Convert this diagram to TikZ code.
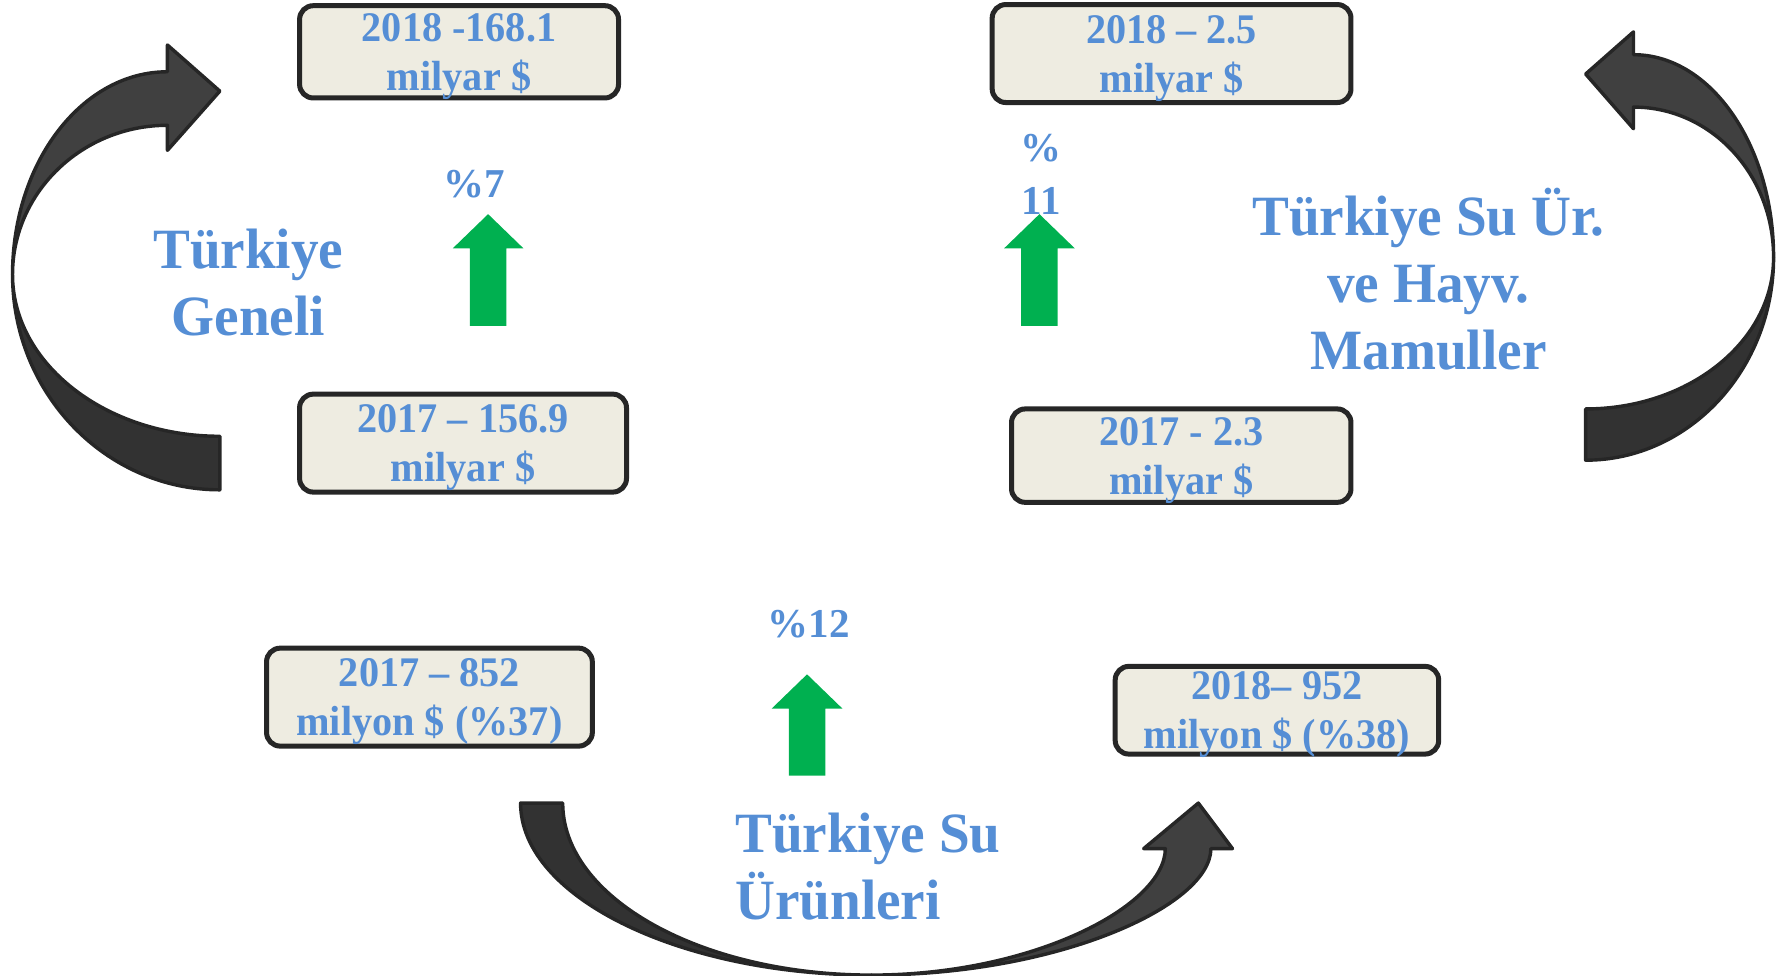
\documentclass[tikz,border=0pt]{standalone}
\usepackage{fontspec}
\setmainfont{Liberation Serif}
\newfontfamily\narrowserif[Ligatures=TeX, FakeStretch=0.955]{Liberation Serif}
\newfontfamily\titleserif[Ligatures=TeX, FakeStretch=0.97]{Liberation Serif}
\usepackage{xcolor}
\definecolor{txtblue}{HTML}{558ED5}
\definecolor{boxfill}{HTML}{EEECE1}
\definecolor{boxline}{HTML}{262626}
\definecolor{upgreen}{HTML}{00B050}
\definecolor{bandlight}{HTML}{404040}
\definecolor{banddark}{HTML}{323232}
\def\headlen{30}

\begin{document}
\begin{tikzpicture}[x=0.5pt,y=-0.5pt]
    \tikzstyle{value box}=[draw=boxline, line width=2.2pt, fill=boxfill, rounded corners=6pt, inner sep=0pt]
    \tikzstyle{value text}=[align=center, text=txtblue, inner sep=0pt, font=\narrowserif\fontsize{18.5}{21.5}\selectfont\bfseries]
    \tikzstyle{rate}=[text=txtblue, align=center, font=\fontsize{18}{23}\selectfont\bfseries]
    \tikzstyle{title}=[text=txtblue, inner sep=0pt, font=\titleserif\fontsize{25}{29.5}\selectfont\bfseries]
    \tikzstyle{band}=[draw=boxline, line width=1.5pt, line join=round]
    \tikzstyle{up arrow}=[fill=upgreen]

    \useasboundingbox (0,0) rectangle (1560,856);

    % Draw the curved arrows (back half first, then the half with the head)
    \filldraw[band, fill=banddark] (11,241) .. controls (11,345) and (92.5,430) .. (193,430) -- (193,383) .. controls (92.5,383) and (11,319) .. (11,241) -- cycle;
    \filldraw[band, fill=bandlight] (11,241) .. controls (11,142.7) and (71.9,63) .. (147,63) -- (147,39.5) -- (193,80) -- (147,132) -- (147,110) .. controls (72,110) and (11,169) .. (11,241) -- cycle;

    \filldraw[band, fill=banddark] (1557,226) .. controls (1557,324) and (1483,404) .. (1392,404) -- (1392,359) .. controls (1483,359) and (1557,299.5) .. (1557,226) -- cycle;
    \filldraw[band, fill=bandlight] (1557,226) .. controls (1557,128) and (1502,48) .. (1434,48) -- (1434,28) -- (1392,65) -- (1434,113) -- (1434,94) .. controls (1502,94) and (1557,153) .. (1557,226) -- cycle;

    \filldraw[band, fill=banddark] (765,856) .. controls (598,856) and (457,788) .. (457,705) -- (494,705) .. controls (494,788) and (615,856) .. (765,856) -- cycle;
    \filldraw[band, fill=bandlight] (765,856) .. controls (929,856) and (1063,795) .. (1063,745) -- (1082,745) -- (1052,705) -- (1004,745) -- (1023,745) .. controls (1023,795) and (907,856) .. (765,856) -- cycle;

    % Draw the value boxes
    \node[value box, minimum width=140pt, minimum height=40.5pt] (v-2018-all) at (403,45.5) {};
    \node[value box, minimum width=143.5pt, minimum height=43pt] (v-2017-all) at (406.5,389) {};
    \node[value box, minimum width=157.5pt, minimum height=43pt] (v-2018-mam) at (1028.5,47) {};
    \node[value box, minimum width=149pt, minimum height=41pt] (v-2017-mam) at (1037,400) {};
    \node[value box, minimum width=143pt, minimum height=43pt] (v-2017-su) at (377,612) {};
    \node[value box, minimum width=142pt, minimum height=38.5pt] (v-2018-su) at (1121,623.5) {};

    % and their texts, set a little low as in the source
    \node[value text] at ([yshift=-2pt]v-2018-all) {2018 -168.1\\milyar \$};
    \node[value text] at ([yshift=-2pt]v-2017-all) {2017 -- 156.9\\milyar \$};
    \node[value text] at ([yshift=-2pt]v-2018-mam) {2018 -- 2.5\\milyar \$};
    \node[value text] at ([yshift=-2pt]v-2017-mam) {2017 - 2.3\\milyar \$};
    \node[value text] at ([yshift=-2pt]v-2017-su) {2017 -- 852\\milyon \$ (\%37)};
    \node[value text] at ([yshift=-2pt]v-2018-su) {2018-- 952\\milyon \$ (\%38)};

    % Draw the growth arrows
    \foreach \x / \y / \len in {428.5/188/68, 912.5/188/68, 708.5/592/59}
        \fill[up arrow] (\x,\y) -- ++(31,\headlen) -- ++(-15,0) -- ++(0,\len) -- ++(-32,0) -- ++(0,-\len) -- ++(-15,0) -- cycle;

    \node[rate] (r-all) at (416,162) {\%7};
    \node[rate] (r-mam) at (914,153) {\%\\11};
    \node[rate] (r-su) at (710,548) {\%12};

    % Titles
    \node[title, align=center] (t-all) at (218,248) {Türkiye\\Geneli};
    \node[title, align=center] (t-mam) at (1254,245) {Türkiye Su Ür.\\ve Hayv.\\Mamuller};
    \node[title, align=left, anchor=west] (t-su) at (645,761) {Türkiye Su\\Ürünleri};
\end{tikzpicture}
\end{document}
